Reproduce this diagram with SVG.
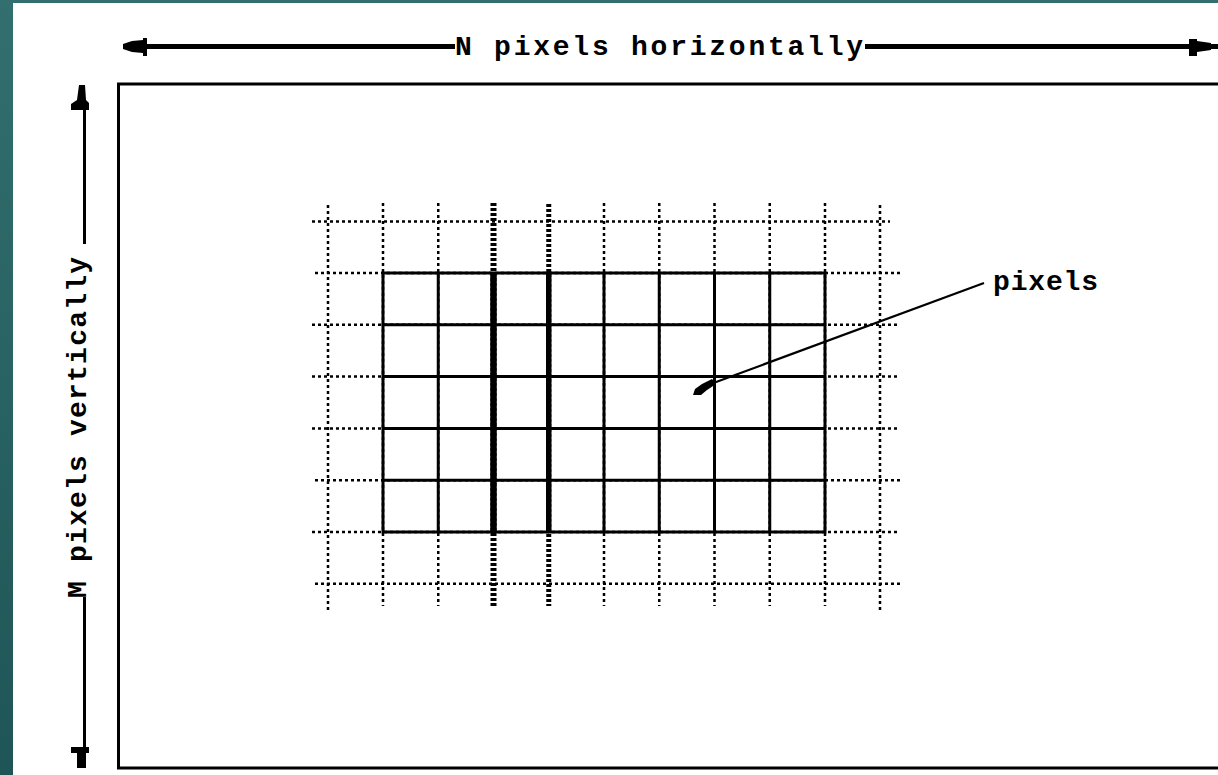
<svg xmlns="http://www.w3.org/2000/svg" width="1218" height="775" viewBox="0 0 1218 775">
<defs>
<linearGradient id="teal" x1="0" y1="0" x2="0" y2="1">
<stop offset="0" stop-color="#326f6e"/>
<stop offset="1" stop-color="#1f5556"/>
</linearGradient>
<style>
.lbl{font-family:"Liberation Mono","DejaVu Sans Mono",monospace;font-size:28px;font-weight:bold;fill:#000}
.dot{stroke:#000;stroke-width:2.5;stroke-dasharray:3 3;fill:none}
.dotv{stroke:#000;stroke-width:2.5;stroke-dasharray:3 3;fill:none}
.thickdash{stroke:#000;stroke-dasharray:3 2;fill:none}
.solid{stroke:#000;stroke-width:3;fill:none}
.ink{fill:#000}
</style>
</defs>
<rect x="0" y="0" width="1218" height="775" fill="url(#teal)"/>
<rect x="13" y="3" width="1205" height="772" fill="#fff"/>

<g id="frame">
<rect x="118.5" y="84" width="1110" height="684" fill="none" stroke="#000" stroke-width="3"/>
</g>

<g id="horizontal-dimension">
<line x1="125" y1="46.5" x2="455" y2="46.5" stroke="#000" stroke-width="5"/>
<line x1="865" y1="46.5" x2="1218" y2="46.5" stroke="#000" stroke-width="5"/>
<polygon class="ink" points="123,44 132,41 143,40 143,38 147,38 147,56 143,56 143,53 132,52 123,49"/>
<polygon class="ink" points="1189,39 1197,39 1197,41 1211,43 1211,50 1197,52 1197,56 1189,56"/>
<text class="lbl" x="455" y="55" textLength="408" lengthAdjust="spacing">N pixels horizontally</text>
</g>

<g id="vertical-dimension">
<line x1="84.5" y1="105" x2="84.5" y2="244" stroke="#000" stroke-width="3"/>
<line x1="84.5" y1="597" x2="84.5" y2="750" stroke="#000" stroke-width="3"/>
<polygon class="ink" points="79,85 85,85 86,100 89,103 89,110 71,110 71,104 77,100"/>
<polygon class="ink" points="71,747 89,747 89,753 86,753 86,768 77,768 77,753 71,753"/>
<text class="lbl" transform="translate(86,598) rotate(-90)" x="0" y="0" textLength="341" lengthAdjust="spacing">M pixels vertically</text>
</g>

<g id="grid-dotted">
<line class="dotv" x1="328" y1="205" x2="328" y2="612"/>
<line class="dotv" x1="383" y1="203" x2="383" y2="606"/>
<line class="dotv" x1="438.25" y1="203" x2="438.25" y2="606"/>
<line class="thickdash" stroke-width="6" x1="493.5" y1="203" x2="493.5" y2="606"/>
<line class="thickdash" stroke-width="5" x1="548.75" y1="204" x2="548.75" y2="606"/>
<line class="dotv" x1="604" y1="203" x2="604" y2="606"/>
<line class="dotv" x1="659.25" y1="203" x2="659.25" y2="606"/>
<line class="dotv" x1="714.5" y1="203" x2="714.5" y2="606"/>
<line class="dotv" x1="769.75" y1="203" x2="769.75" y2="606"/>
<line class="dotv" x1="825" y1="203" x2="825" y2="606"/>
<line class="dotv" x1="880" y1="205" x2="880" y2="610"/>
<line class="dot" x1="312" y1="221.5" x2="890" y2="221.5"/>
<line class="dot" x1="315" y1="273" x2="900" y2="273"/>
<line class="dot" x1="312" y1="324.8" x2="898" y2="324.8"/>
<line class="dot" x1="312" y1="376.6" x2="900" y2="376.6"/>
<line class="dot" x1="312" y1="428.4" x2="898" y2="428.4"/>
<line class="dot" x1="315" y1="480.2" x2="900" y2="480.2"/>
<line class="dot" x1="312" y1="532" x2="898" y2="532"/>
<line class="dot" x1="315" y1="583.7" x2="900" y2="583.7"/>
</g>

<g id="grid-solid">
<rect x="383" y="273" width="442" height="259" fill="none" stroke="#000" stroke-width="3"/>
<line class="solid" x1="438.25" y1="273" x2="438.25" y2="532"/>
<line x1="493.5" y1="272" x2="493.5" y2="533" stroke="#000" stroke-width="6.5"/>
<line x1="548.75" y1="272" x2="548.75" y2="533" stroke="#000" stroke-width="5.5"/>
<line class="solid" x1="604" y1="273" x2="604" y2="532"/>
<line class="solid" x1="659.25" y1="273" x2="659.25" y2="532"/>
<line class="solid" x1="714.5" y1="273" x2="714.5" y2="532"/>
<line class="solid" x1="769.75" y1="273" x2="769.75" y2="532"/>
<line class="solid" x1="383" y1="324.8" x2="825" y2="324.8"/>
<line class="solid" x1="383" y1="376.6" x2="825" y2="376.6"/>
<line class="solid" x1="383" y1="428.4" x2="825" y2="428.4"/>
<line class="solid" x1="383" y1="480.2" x2="825" y2="480.2"/>
</g>

<g id="pixels-label">
<line x1="984" y1="283" x2="708" y2="385" stroke="#000" stroke-width="2.2"/>
<polygon class="ink" points="693,395 695,389 702,384 712,379 716,384 707,390 701,395"/>
<text class="lbl" x="993" y="290" textLength="105" lengthAdjust="spacing">pixels</text>
</g>
</svg>
